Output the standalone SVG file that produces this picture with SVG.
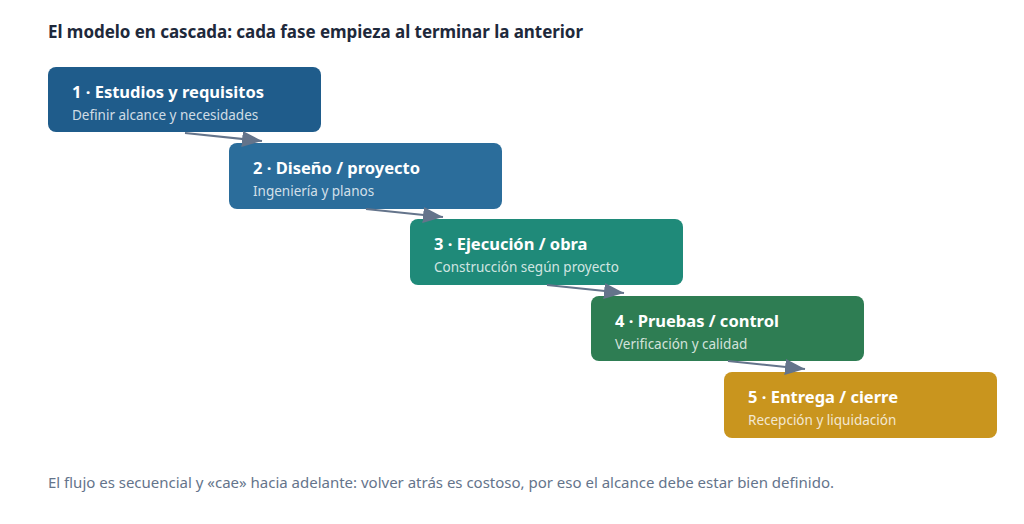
<svg xmlns="http://www.w3.org/2000/svg" width="1024" height="524" viewBox="0 0 1024 524">
<defs>
<marker id="ah" markerUnits="userSpaceOnUse" markerWidth="22" markerHeight="18" refX="20" refY="8" orient="auto">
<path d="M0,0 L20,8 L0,16 Z" fill="#64748b"/>
</marker>
<style>
text{font-family:"Noto Sans","Open Sans","Liberation Sans",sans-serif}
.t{font-size:16.5px;font-weight:700;fill:#ffffff}
.s{font-size:13.5px;fill:#ffffff;fill-opacity:0.8}
.edge{stroke:#64748b;stroke-width:2;fill:none;marker-end:url(#ah)}
</style>
</defs>
<rect width="1024" height="524" fill="#ffffff"/>
<text x="48" y="38" font-size="17" font-weight="700" fill="#1e293b" textLength="535" lengthAdjust="spacing">El modelo en cascada: cada fase empieza al terminar la anterior</text>
<g id="n1"><rect x="48" y="67" width="273" height="65" rx="8" fill="#1f5c8b"/><text class="t" x="72" y="98">1 · Estudios y requisitos</text><text class="s" x="72" y="120">Definir alcance y necesidades</text></g>
<g id="n2"><rect x="229" y="143" width="273" height="66" rx="8" fill="#2b6d9b"/><text class="t" x="253" y="174">2 · Diseño / proyecto</text><text class="s" x="253" y="196">Ingeniería y planos</text></g>
<g id="n3"><rect x="410" y="219" width="273" height="66" rx="8" fill="#1f8a79"/><text class="t" x="434" y="250">3 · Ejecución / obra</text><text class="s" x="434" y="272">Construcción según proyecto</text></g>
<g id="n4"><rect x="591" y="296" width="273" height="65" rx="8" fill="#2e7d53"/><text class="t" x="615" y="327">4 · Pruebas / control</text><text class="s" x="615" y="349">Verificación y calidad</text></g>
<g id="n5"><rect x="724" y="372" width="273" height="66" rx="8" fill="#c9951e"/><text class="t" x="748" y="403">5 · Entrega / cierre</text><text class="s" x="748" y="425">Recepción y liquidación</text></g>
<g id="edges">
<line class="edge" x1="185" y1="133" x2="262" y2="141"/>
<line class="edge" x1="366" y1="209" x2="443" y2="217"/>
<line class="edge" x1="547" y1="285" x2="624" y2="293"/>
<line class="edge" x1="728" y1="361" x2="805" y2="369"/>
</g>
<text x="48" y="488" font-size="15" fill="#64748b" textLength="786" lengthAdjust="spacing">El flujo es secuencial y «cae» hacia adelante: volver atrás es costoso, por eso el alcance debe estar bien definido.</text>
</svg>
